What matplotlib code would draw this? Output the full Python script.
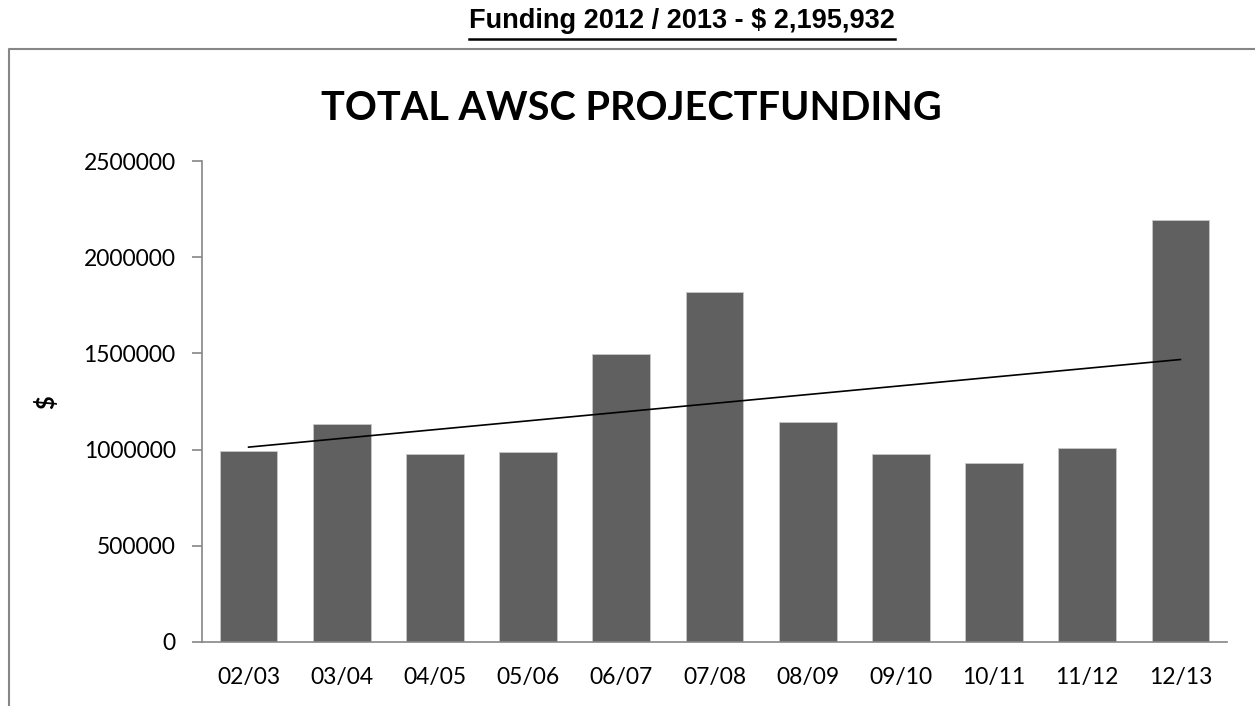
import numpy as np
import matplotlib
matplotlib.use("Agg")
import matplotlib.pyplot as plt
from matplotlib.lines import Line2D

# funding per year
years = ["02/03", "03/04", "04/05", "05/06", "06/07", "07/08",
         "08/09", "09/10", "10/11", "11/12", "12/13"]
funding = [991000, 1131000, 977000, 986000, 1495000, 1817000,
           1142000, 975000, 930000, 1006000, 2195932]
yticks = [0, 500000, 1000000, 1500000, 2000000, 2500000]

header = "Funding 2012 / 2013 - \\$ 2,195,932"
title = "TOTAL AWSC PROJECTFUNDING"

plt.rcParams['font.family'] = ['Lato', 'DejaVu Sans']

W, H = 1255, 706
fig = plt.figure(figsize=(W/100, H/100), dpi=100)
ax = fig.add_axes([202/W, 1 - 642/H, (1227-202)/W, (642-161)/H])

x = np.arange(len(years))
ax.bar(x, funding, width=0.62, color='#606060', edgecolor='#c8c8c8', linewidth=0.6, zorder=2)

# linear trendline
k, b = np.polyfit(x, funding, 1)
ax.plot(x, k*x + b, color='black', linewidth=1.2, zorder=3)

ax.set_xlim(-0.5, len(years) - 0.5)
ax.set_ylim(0, 2500000)
ax.set_yticks(yticks)
ax.set_yticklabels([str(t) for t in yticks])
ax.set_xticks(x)
ax.set_xticklabels(years)

for s in ['top', 'right']:
    ax.spines[s].set_visible(False)
for s in ['left', 'bottom']:
    ax.spines[s].set_color('#868686')
    ax.spines[s].set_linewidth(1.2)
ax.tick_params(axis='y', length=7, width=1.2, color='#868686', pad=12, labelsize=16.5)
ax.tick_params(axis='x', length=0, pad=18, labelsize=16.5)

ax.set_ylabel("\\$", fontsize=17, fontweight='bold')
ax.yaxis.set_label_coords((58 - 202) / (1227 - 202), (642 - 402) / (642 - 161))

fig.text(631/W, 1 - 120.5/H, title, ha='center', va='baseline',
         fontsize=28.5, fontweight='bold')

# header with underline
hdr = fig.text(682/W, 1 - 28/H, header, ha='center', va='baseline',
               fontsize=19.5, fontweight='bold',
               family=['Liberation Sans', 'DejaVu Sans'])
fig.canvas.draw()
bb = hdr.get_window_extent().transformed(fig.transFigure.inverted())
fig.add_artist(Line2D([bb.x0, bb.x1], [1 - 39/H, 1 - 39/H],
                      transform=fig.transFigure, color='black', linewidth=1.8))

# chart frame
fig.add_artist(Line2D([9/W, 9/W, 1.0], [0.0, 1 - 49/H, 1 - 49/H],
                      transform=fig.transFigure, color='#868686', linewidth=1.5))

fig.savefig("out.png", dpi=100)
